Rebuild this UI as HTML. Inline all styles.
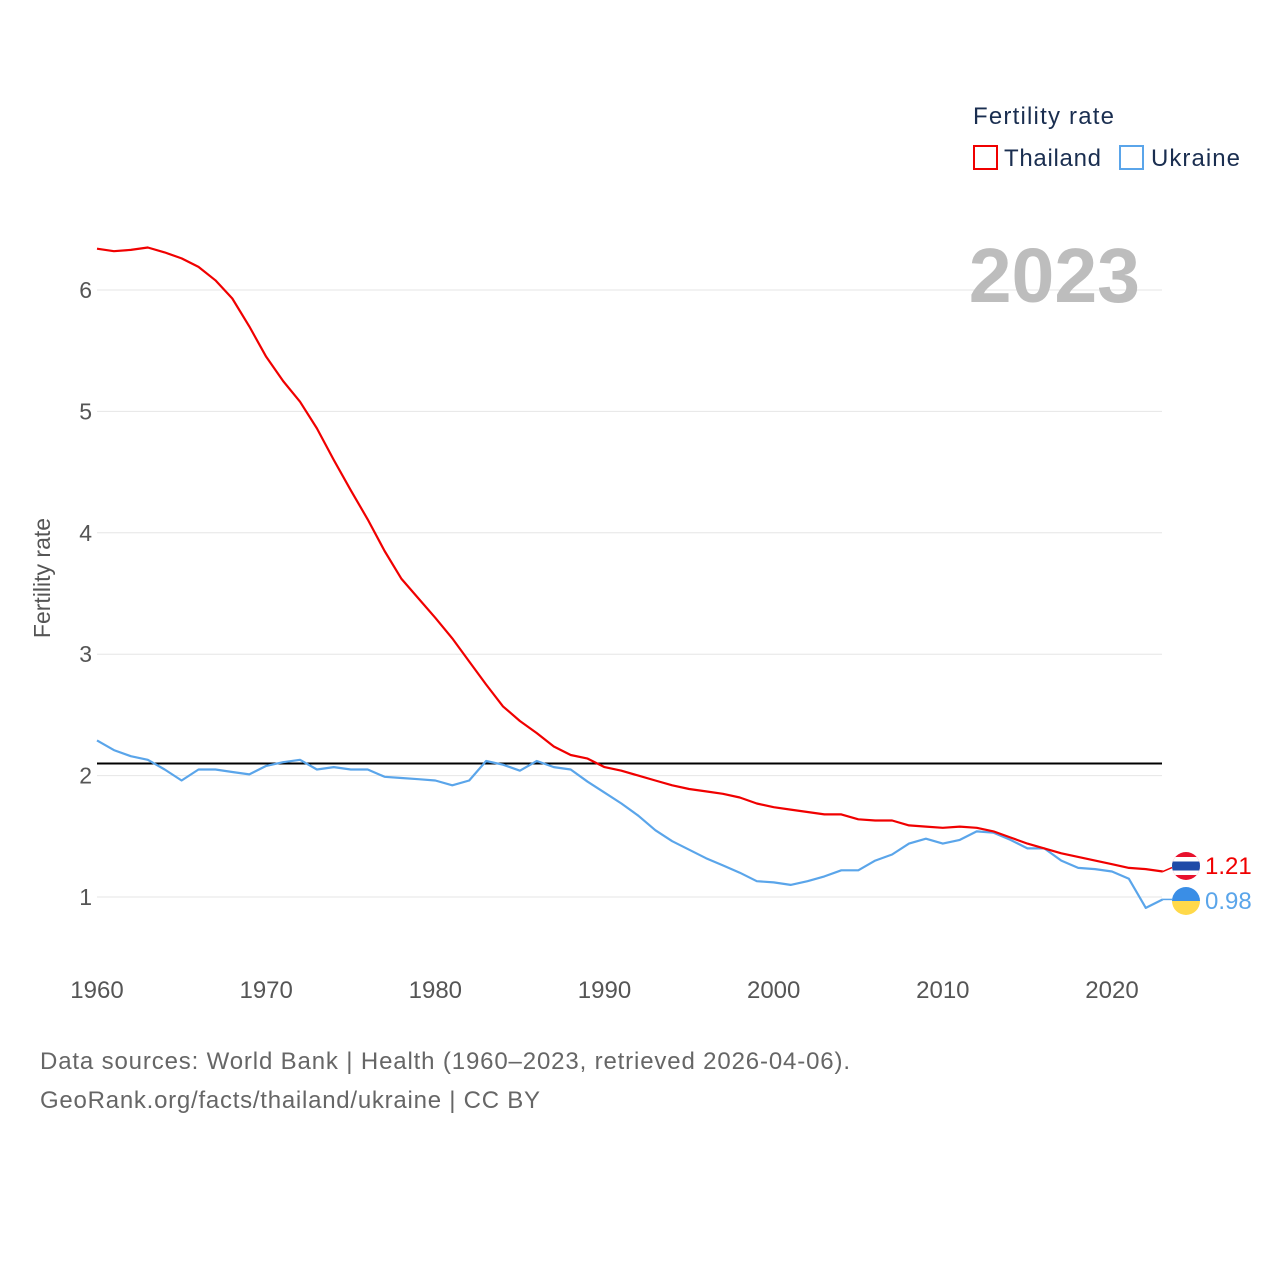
<!DOCTYPE html>
<html><head><meta charset="utf-8"><style>
body{margin:0;background:#fff;}
svg{display:block;font-family:"Liberation Sans",sans-serif;}
</style></head><body>
<svg id="chart" width="1280" height="1280"></svg>
<script>
const years = [];
for (let y = 1960; y <= 2023; y++) years.push(y);
const thailand = [6.34,6.32,6.33,6.35,6.31,6.26,6.19,6.08,5.93,5.70,5.45,5.25,5.08,4.86,4.60,4.35,4.11,3.85,3.62,3.46,3.30,3.13,2.94,2.75,2.57,2.45,2.35,2.24,2.17,2.14,2.07,2.04,2.00,1.96,1.92,1.89,1.87,1.85,1.82,1.77,1.74,1.72,1.70,1.68,1.68,1.64,1.63,1.63,1.59,1.58,1.57,1.58,1.57,1.54,1.49,1.44,1.40,1.36,1.33,1.30,1.27,1.24,1.23,1.21];
const ukraine = [2.29,2.21,2.16,2.13,2.05,1.96,2.05,2.05,2.03,2.01,2.08,2.11,2.13,2.05,2.07,2.05,2.05,1.99,1.98,1.97,1.96,1.92,1.96,2.12,2.09,2.04,2.12,2.07,2.05,1.95,1.86,1.77,1.67,1.55,1.46,1.39,1.32,1.26,1.20,1.13,1.12,1.10,1.13,1.17,1.22,1.22,1.30,1.35,1.44,1.48,1.44,1.47,1.54,1.53,1.47,1.40,1.40,1.30,1.24,1.23,1.21,1.15,0.91,0.98];
const yTicks = [1,2,3,4,5,6];
const xTicks = [1960,1970,1980,1990,2000,2010,2020];
const replacementRate = 2.1;

const NS = "http://www.w3.org/2000/svg";
const svg = document.getElementById('chart');
const xs = yr => 97 + (yr - 1960) * (1112 - 97) / 60;
const ys = v => 897 - (v - 1) * 121.4;
function mk(tag, attrs, parent) {
  const e = document.createElementNS(NS, tag);
  for (const k in attrs) e.setAttribute(k, attrs[k]);
  (parent || svg).appendChild(e);
  return e;
}
yTicks.forEach(t => {
  const g = mk('line', {x1: 97, x2: 1162, y1: ys(t), y2: ys(t), stroke: '#e6e6e6', 'stroke-width': 1});
  
  
  const l = mk('text', {x: 92, y: ys(t) + 8, 'text-anchor': 'end', 'font-size': 23, fill: '#555'});
  l.textContent = t;
  
  
});
xTicks.forEach(t => {
  const l = mk('text', {x: xs(t), y: 998, 'text-anchor': 'middle', 'font-size': 24, fill: '#555'});
  l.textContent = t;
  
  
});
const yt = mk('text', {x: 0, y: 0, transform: 'translate(50,578) rotate(-90)', 'text-anchor': 'middle', 'font-size': 23, fill: '#555'});
yt.textContent = 'Fertility rate';



const yr = mk('text', {x: 1140, y: 302, 'text-anchor': 'end', 'font-size': 77, 'font-weight': 'bold', fill: '#bdbdbd'});
yr.textContent = '2023';



const ref = mk('line', {x1: 97, x2: 1162, y1: ys(replacementRate), y2: ys(replacementRate), stroke: '#000', 'stroke-width': 2});



function series(vals, color, name) {
  const d = vals.map((v, i) => (i ? 'L' : 'M') + xs(years[i]).toFixed(1) + ',' + ys(v).toFixed(1)).join(' ');
  const p = mk('path', {d: d, fill: 'none', stroke: color, 'stroke-width': 2.2, 'stroke-linejoin': 'round'});
  
  
}
series(ukraine, '#5aa5ea', 'ukraine');
series(thailand, '#f00000', 'thailand');

const lastT = thailand[thailand.length - 1], lastU = ukraine[ukraine.length - 1];
const tx = xs(2023);
mk('line', {x1: tx, x2: 1172, y1: ys(lastT), y2: ys(lastT) - 4, stroke: '#f00000', 'stroke-width': 1.5});
mk('line', {x1: tx, x2: 1172, y1: ys(lastU), y2: ys(lastU), stroke: '#5aa5ea', 'stroke-width': 1.5});
const defs = mk('defs', {});
const c1 = mk('clipPath', {id: 'cth'}, defs); mk('circle', {cx: 1186, cy: 866, r: 14}, c1);
const c2 = mk('clipPath', {id: 'cua'}, defs); mk('circle', {cx: 1186, cy: 901, r: 14}, c2);
const fth = mk('g', {'clip-path': 'url(#cth)'});


mk('rect', {x: 1172, y: 852, width: 28, height: 28, fill: '#e8112d'}, fth);
mk('rect', {x: 1172, y: 857, width: 28, height: 18, fill: '#fff'}, fth);
mk('rect', {x: 1172, y: 861.5, width: 28, height: 9, fill: '#1f4aa8'}, fth);
const fua = mk('g', {'clip-path': 'url(#cua)'});


mk('rect', {x: 1172, y: 887, width: 28, height: 14, fill: '#3a8ee6'}, fua);
mk('rect', {x: 1172, y: 901, width: 28, height: 14, fill: '#ffd94a'}, fua);
const lt = mk('text', {x: 1205, y: 874, 'font-size': 24, fill: '#f00000'});
lt.textContent = lastT.toFixed(2);


const lu = mk('text', {x: 1205, y: 909, 'font-size': 24, fill: '#5aa5ea'});
lu.textContent = lastU.toFixed(2);



const lg = mk('text', {x: 973, y: 124, 'font-size': 24, fill: '#1a2e50', textLength: 141});
lg.textContent = 'Fertility rate';


const b1 = mk('rect', {x: 974, y: 146, width: 23, height: 23, fill: 'none', stroke: '#f00000', 'stroke-width': 2});


const t1 = mk('text', {x: 1004, y: 166, 'font-size': 24, fill: '#1a2e50', textLength: 97});
t1.textContent = 'Thailand';


const b2 = mk('rect', {x: 1120, y: 146, width: 23, height: 23, fill: 'none', stroke: '#5aa5ea', 'stroke-width': 2});


const t2 = mk('text', {x: 1151, y: 166, 'font-size': 24, fill: '#1a2e50', textLength: 89});
t2.textContent = 'Ukraine';



const f1 = mk('text', {x: 40, y: 1069, 'font-size': 24, fill: '#666', textLength: 810});
f1.textContent = 'Data sources: World Bank | Health (1960–2023, retrieved 2026-04-06).';


const f2 = mk('text', {x: 40, y: 1108, 'font-size': 24, fill: '#666', textLength: 500});
f2.textContent = 'GeoRank.org/facts/thailand/ukraine | CC BY';


</script>
</body></html>
